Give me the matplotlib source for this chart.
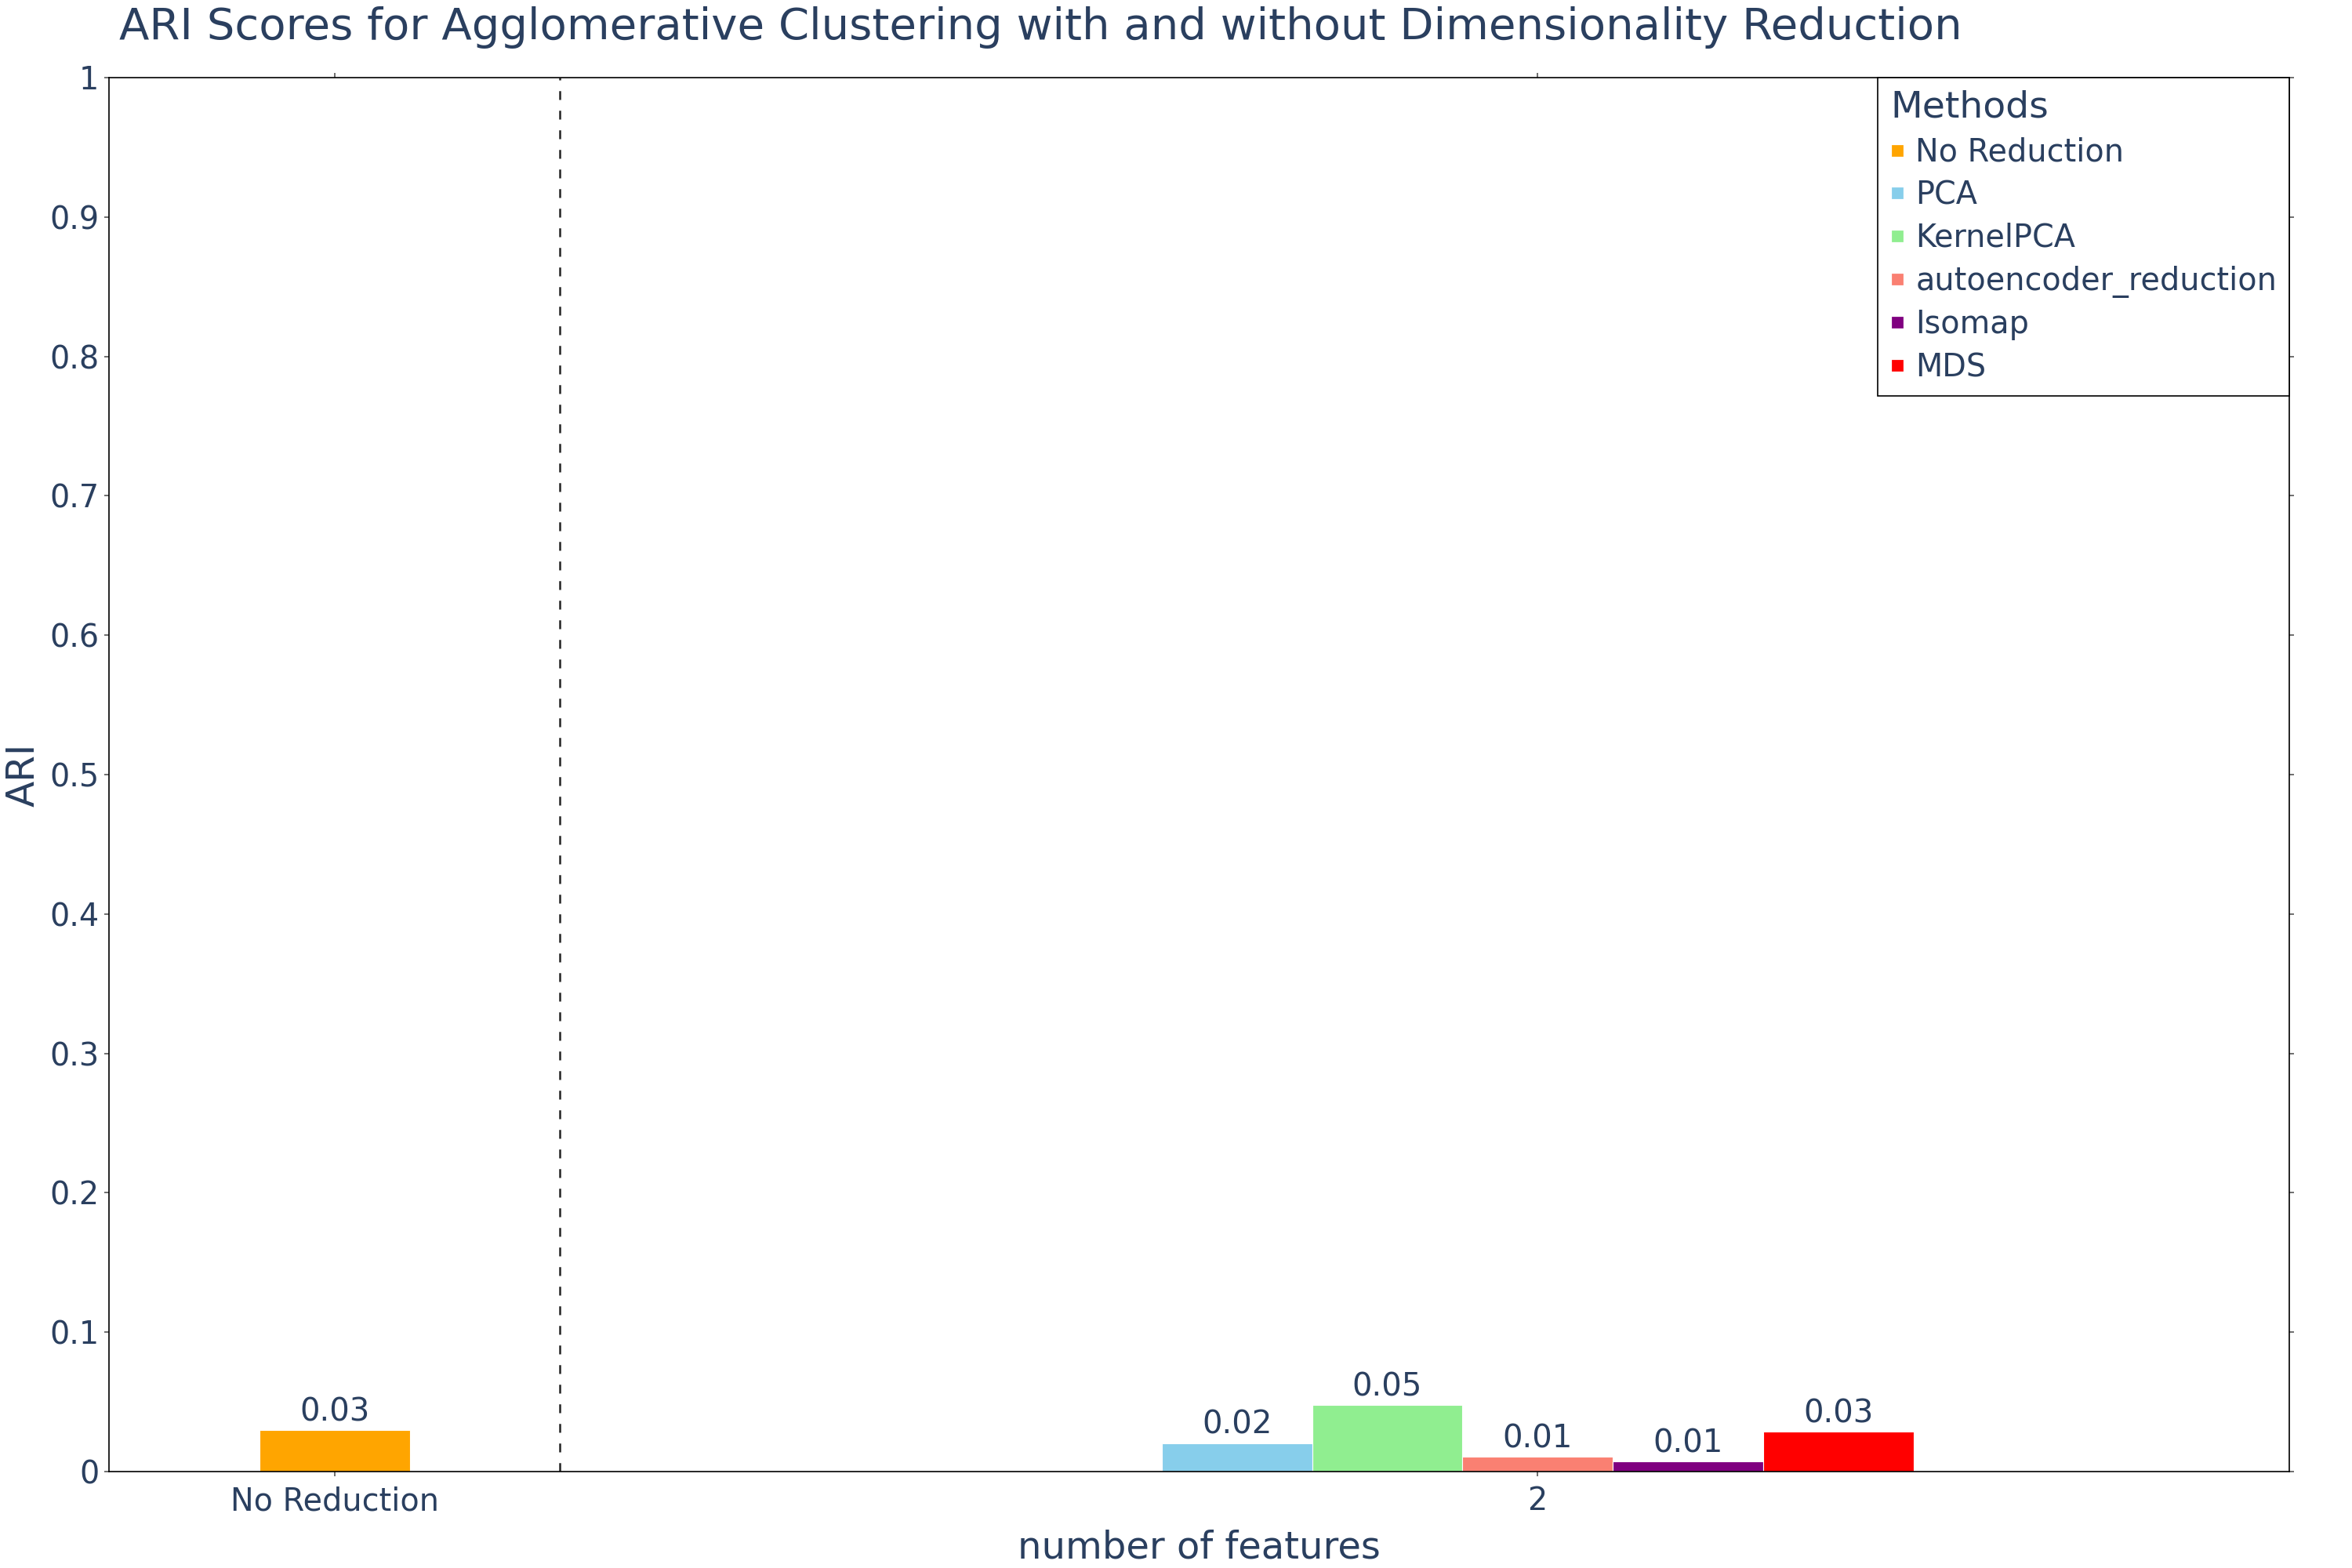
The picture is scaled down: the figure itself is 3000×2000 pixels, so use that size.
"""
ARI scores for agglomerative clustering, with and without dimensionality reduction.
"""

import matplotlib.pyplot as plt
from matplotlib.lines import Line2D

OUT_PATH = "out.png"

TEXT = "#2a3f5f"

# data
categories = ["No Reduction", "2"]
baseline_method = "No Reduction"
baseline_ari = 0.0298
methods = ["PCA", "KernelPCA", "autoencoder_reduction", "Isomap", "MDS"]
method_ari = [0.0204, 0.0478, 0.0107, 0.0071, 0.0287]
colors = {
    "No Reduction": "#FFA500",
    "PCA": "#87CEEB",
    "KernelPCA": "#90EE90",
    "autoencoder_reduction": "#FA8072",
    "Isomap": "#800080",
    "MDS": "#FF0000",
}
yticks = [0, 0.1, 0.2, 0.3, 0.4, 0.5, 0.6, 0.7, 0.8, 0.9, 1]
ytick_labels = ["0", "0.1", "0.2", "0.3", "0.4", "0.5", "0.6", "0.7", "0.8", "0.9", "1"]


def label_bar(ax, x, v):
    ax.annotate(f"{v:.2f}", (x, v), xytext=(0, 1), textcoords="offset points",
                ha="center", va="bottom", fontsize=14.5, color=TEXT)


def main():
    plt.rcParams["font.family"] = ["DejaVu Sans"]
    fig = plt.figure(figsize=(15, 10), dpi=200)
    ax = fig.add_axes([0.0463, 0.0615, 0.927, 0.889])

    width = 0.125

    # No Reduction bar at category 0
    ax.bar(0, baseline_ari, width=width, color=colors[baseline_method],
           edgecolor="white", linewidth=0.4, label=baseline_method)
    label_bar(ax, 0, baseline_ari)

    # reduction methods grouped at category 1
    n = len(methods)
    for i, (m, v) in enumerate(zip(methods, method_ari)):
        x = 1 + (i - (n - 1) / 2) * width
        ax.bar(x, v, width=width, color=colors[m], edgecolor="white",
               linewidth=0.4, label=m)
        label_bar(ax, x, v)

    ax.axvline(0.1868, color="#222222", linewidth=0.9, linestyle=(0, (4.5, 5.5)))

    ax.set_xlim(-0.188, 1.625)
    ax.set_ylim(0, 1)
    ax.set_xticks(range(len(categories)))
    ax.set_xticklabels(categories)
    ax.set_yticks(yticks)
    ax.set_yticklabels(ytick_labels)

    for s in ax.spines.values():
        s.set_color("black")
        s.set_linewidth(0.6)
    ax.tick_params(axis="both", which="both", direction="out", length=2,
                   width=0.6, color="#555555", labelcolor=TEXT, labelsize=14.3,
                   top=True, right=True)
    ax.tick_params(axis="y", pad=2.5)
    ax.tick_params(axis="x", pad=4.5)

    ax.set_xlabel("number of features", fontsize=17.3, color=TEXT)
    ax.xaxis.set_label_coords(0.5, -0.0619)
    ax.xaxis.label.set_va("baseline")
    ax.set_ylabel("ARI", fontsize=17.5, color=TEXT)
    ax.yaxis.set_label_coords(-0.0392, 0.5)
    ax.yaxis.label.set_va("center")

    fig.text(0.0507, 0.975,
             "ARI Scores for Agglomerative Clustering with and without Dimensionality Reduction",
             fontsize=20.2, color=TEXT, ha="left", va="baseline")

    handles = [Line2D([0], [0], marker="s", linestyle="none", markersize=4.3,
                      markerfacecolor=colors[k], markeredgecolor=colors[k], label=k)
               for k in [baseline_method] + methods]
    leg = ax.legend(handles=handles, title="Methods", loc="upper right",
                    bbox_to_anchor=(1, 1), borderaxespad=0, fontsize=14.3,
                    title_fontsize=17, frameon=True, fancybox=False,
                    framealpha=1, edgecolor="black", handlelength=0.45,
                    handletextpad=0.35, labelspacing=0.37, borderpad=0.4,
                    alignment="left", labelcolor=TEXT)
    leg.get_frame().set_linewidth(0.6)
    leg.get_title().set_color(TEXT)

    fig.savefig(OUT_PATH, dpi=200)


if __name__ == "__main__":
    main()
